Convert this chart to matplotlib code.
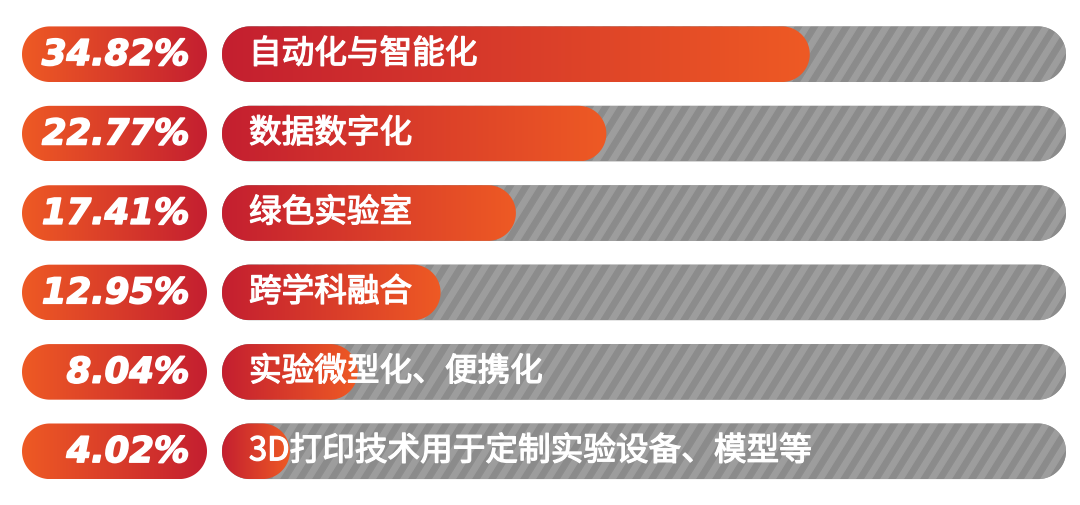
import numpy as np
import matplotlib
matplotlib.use('Agg')
import matplotlib.pyplot as plt
from matplotlib.patches import Polygon
from matplotlib.colors import LinearSegmentedColormap
from matplotlib.transforms import offset_copy
import matplotlib.patheffects as pe

# ---------------- data ----------------
categories = ['自动化与智能化', '数据数字化', '绿色实验室', '跨学科融合',
              '实验微型化、便携化', '3D打印技术用于定制实验设备、模型等']
values = [34.82, 22.77, 17.41, 12.95, 8.04, 4.02]
value_labels = ['34.82%', '22.77%', '17.41%', '12.95%', '8.04%', '4.02%']
x_max = 50

# ---------------- style ----------------
W, H, DPI = 1080, 506, 100
RED = '#C41F30'
ORANGE = '#EE5A24'
GRAY = '#9D9D9D'
STRIPE = '#8C8C8C'

bar_cmap = LinearSegmentedColormap.from_list('bar', [RED, ORANGE])
pill_cmap = LinearSegmentedColormap.from_list('pill', [ORANGE, RED])
stripe_cmap = LinearSegmentedColormap.from_list('stripe', [GRAY, STRIPE])

fig = plt.figure(figsize=(W / DPI, H / DPI), dpi=DPI)
fig.patch.set_facecolor('white')

row_top, row_bot = 15.5, 492.0
n = len(categories)
bar_h = 0.70

ax_bottom = (H - row_bot) / H
ax_height = (row_bot - row_top) / H
bar_ax = fig.add_axes([222 / W, ax_bottom, 844 / W, ax_height])
pill_ax = fig.add_axes([22 / W, ax_bottom, 185 / W, ax_height])

for ax in (bar_ax, pill_ax):
    ax.set_ylim(n - 0.5, -0.5)
    ax.axis('off')
bar_ax.set_xlim(0, x_max)
pill_ax.set_xlim(0, 1)


def units_per_px(ax):
    x0, x1 = ax.get_xlim()
    y0, y1 = ax.get_ylim()
    bb = ax.get_window_extent()
    return abs(x1 - x0) / bb.width, abs(y1 - y0) / bb.height


def pill(ax, x0, x1, yc, **kw):
    xpp, ypp = units_per_px(ax)
    ry = bar_h / 2
    rx = (ry / ypp) * xpp
    rx = min(rx, (x1 - x0) / 2)
    t = np.linspace(-np.pi / 2, np.pi / 2, 60)
    right = np.column_stack([x1 - rx + rx * np.cos(t), yc + ry * np.sin(t)])
    t2 = np.linspace(np.pi / 2, 3 * np.pi / 2, 60)
    left = np.column_stack([x0 + rx + rx * np.cos(t2), yc + ry * np.sin(t2)])
    p = Polygon(np.vstack([right, left]), closed=True, **kw)
    ax.add_patch(p)
    return p


grad = np.linspace(0, 1, 256).reshape(1, -1)

# stripe texture (pure decoration), built at pixel resolution of one bar row
bb = bar_ax.get_window_extent()
row_px = int(round(bb.height / n * bar_h))
col_px = int(round(bb.width))
vv, uu = np.mgrid[0:row_px, 0:col_px]
phase = (uu + 0.62 * vv) % 16.0
dist = np.minimum(phase, 16.0 - phase)          # 0..8, distance to stripe centre
texture = np.clip(4.5 - dist, 0, 1)              # ~8px dark band, soft edges

for i, (cat, v, lab) in enumerate(zip(categories, values, value_labels)):
    # left pill with percentage
    pp = pill(pill_ax, 0, 1, i, facecolor='none', edgecolor='none', lw=0)
    im = pill_ax.imshow(grad, cmap=pill_cmap, aspect='auto', interpolation='bicubic',
                        extent=[0, 1, i + bar_h / 2, i - bar_h / 2], zorder=1)
    im.set_clip_path(pp)
    pill_ax.text(0.905, i + 0.01, lab, ha='right', va='center', color='white',
                 fontsize=25.5, fontweight='bold', fontstyle='italic',
                 family=['DejaVu Sans'], zorder=3,
                 path_effects=[pe.withStroke(linewidth=1.2, foreground='white')])

    # gray striped background bar
    gp = pill(bar_ax, 0, x_max, i, facecolor=GRAY, edgecolor='none', lw=0, zorder=0)
    ims = bar_ax.imshow(texture, cmap=stripe_cmap, vmin=0, vmax=1, aspect='auto',
                        interpolation='antialiased', origin='upper',
                        extent=[0, x_max, i + bar_h / 2, i - bar_h / 2], zorder=0.5)
    ims.set_clip_path(gp)

    # value bar with gradient
    vp = pill(bar_ax, 0, v, i, facecolor='none', edgecolor='none', lw=0, zorder=1)
    im2 = bar_ax.imshow(grad, cmap=bar_cmap, aspect='auto', interpolation='bicubic',
                        extent=[0, v, i + bar_h / 2, i - bar_h / 2], zorder=1)
    im2.set_clip_path(vp)

    tr = offset_copy(bar_ax.transData, fig=fig, x=27, y=0, units='dots')
    bar_ax.text(0, i, cat, transform=tr, ha='left', va='center', color='white',
                fontsize=23.5, family=['Noto Sans CJK SC', 'DejaVu Sans'], zorder=3,
                path_effects=[pe.withStroke(linewidth=0.9, foreground='white')])

for ax in (bar_ax, pill_ax):
    ax.set_ylim(n - 0.5, -0.5)
bar_ax.set_xlim(0, x_max)
pill_ax.set_xlim(0, 1)

fig.savefig('out.png', dpi=DPI, facecolor='white')
